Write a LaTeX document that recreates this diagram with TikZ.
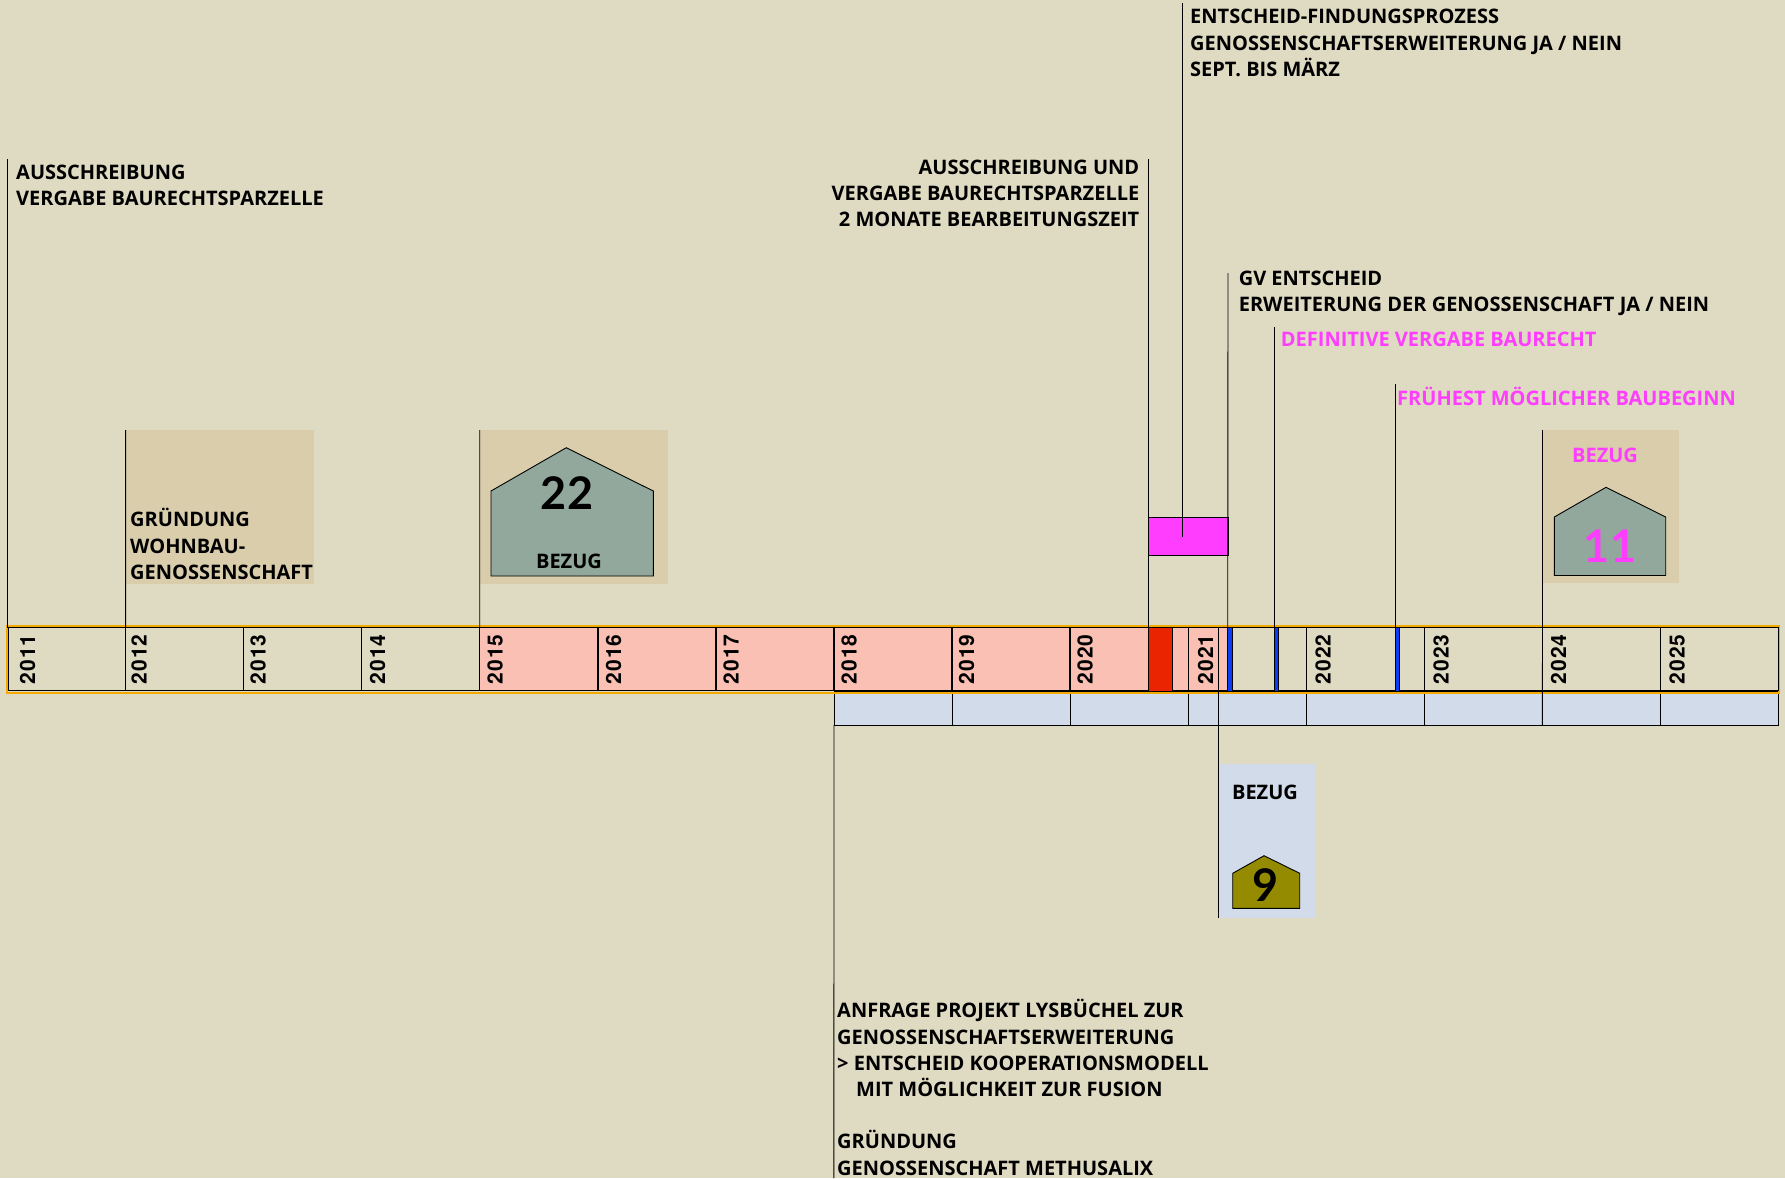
\documentclass[tikz,border=0pt]{standalone}
\usepackage{fontspec}
\setmainfont{Open Sans}
\newfontfamily\yearfont[LetterSpace=6]{TeX Gyre Heros}
\newfontfamily\countfont{Lato}
\usetikzlibrary{positioning}

\definecolor{paper}{HTML}{DFDAC2}
\definecolor{tan}{HTML}{D9CDAC}
\definecolor{sage}{HTML}{92A89C}
\definecolor{salmon}{HTML}{FBC0B4}
\definecolor{signal}{HTML}{EA2400}
\definecolor{pinkish}{HTML}{FF3DFF}
\definecolor{bluebar}{HTML}{0A3DF5}
\definecolor{pale}{HTML}{D2DBE9}
\definecolor{olive}{HTML}{958B00}
\definecolor{rim}{HTML}{F2A900}

\begin{document}
\begin{tikzpicture}[
  x=1pt, y=-1pt,
  block/.style={inner sep=0pt, outer sep=0pt, anchor=north west},
  yearcell/.style={block, draw=black, line width=1.3pt, minimum width=118.07pt, minimum height=63pt},
  lowcell/.style={block, draw=black, line width=0.9pt, fill=pale, minimum width=118.07pt, minimum height=34pt},
  yearlabel/.style={rotate=90, anchor=west, inner sep=0pt, font=\yearfont\bfseries\fontsize{21}{24}\selectfont},
  note/.style={inner sep=0pt, anchor=west, align=left, font=\bfseries\fontsize{20}{26.2}\selectfont},
  noteright/.style={note, anchor=east, align=right},
  bezug/.style={inner sep=0pt, font=\bfseries\fontsize{20}{24}\selectfont},
  count/.style={inner sep=0pt, font=\countfont\bfseries\fontsize{45}{48}\selectfont},
  tick/.style={draw=black, line width=0.9pt},
  house/.style={draw=black, line width=0.9pt, fill=sage},
  stroke/.style={block, draw=black, line width=0.7pt}
]
\useasboundingbox (0,0) rectangle (1785,1178);
\fill[paper] (0,0) rectangle (1785,1178);

% backgrounds behind the timeline
\node[block, fill=tan, minimum width=188pt, minimum height=154pt] (tan2012) at (126,430) {};
\node[block, fill=tan, minimum width=188pt, minimum height=154pt] (tan2015) at (480,430) {};
\node[block, fill=tan, minimum width=136pt, minimum height=153pt] (tan2024) at (1543,430) {};
\node[block, fill=pale, minimum width=97pt, minimum height=154pt] (pale2021) at (1219,764) {};
\node[block, fill=salmon, minimum width=748.3pt, minimum height=64pt] (salmonbar) at (479.7,627) {};

% timeline
\foreach \year/\lx [count=\i from 0] in {2011/27.5,2012/139,2013/258,2014/377.5,2015/495,2016/613.5,2017/731,2018/849,2019/966.5,2020/1085,2021/1205.5,2022/1323,2023/1441,2024/1558.5,2025/1677}{
  \node[yearcell] (y\year) at (7.5+118.07*\i,627.8) {};
  \node[yearlabel] (label\year) at (\lx,685) {\year};
}
\foreach \year [count=\i from 7] in {2018,...,2025}{
  \node[lowcell] (low\year) at (7.5+118.07*\i,691) {};
}
\draw[rim, line width=2pt] (6.6,626) rectangle (1779.4,692.6);
\draw[black, line width=1.2pt] (8.1,627.8) rectangle (1778.3,690.8);

% marks in the year cells
\node[stroke, fill=signal, minimum width=23.6pt, minimum height=64pt] (phase) at (1148.7,627) {};
\node[stroke, fill=pinkish, minimum width=79.3pt, minimum height=38.7pt] (process) at (1148.7,517) {};
\node[stroke, fill=bluebar, minimum width=4.6pt, minimum height=64pt] (mark1) at (1227.7,627) {};
\node[stroke, fill=bluebar, minimum width=4.6pt, minimum height=64pt] (mark2) at (1274,627) {};
\node[stroke, fill=bluebar, minimum width=4.6pt, minimum height=64pt] (mark3) at (1395,627) {};

% houses
\draw[house] (491,576) -- (491,491) -- (566.3,447.7) -- (653.3,491) -- (653.3,576) -- cycle;
\draw[house] (1554.3,575.5) -- (1554.3,517) -- (1606,487.3) -- (1665.7,517) -- (1665.7,575.5) -- cycle;
\draw[house, fill=olive] (1232.7,908.3) -- (1232.7,873.3) -- (1264,855.7) -- (1299.7,873.3) -- (1299.7,908.3) -- cycle;

% free ends of the lines
\coordinate (top2011) at (7.5,159);
\coordinate (top2012) at (125.6,430);
\coordinate (top2015) at (479.7,430);
\coordinate (topaward) at (1148.7,159);
\coordinate (topprocess) at (1182,3);
\coordinate (endprocess) at (1182,537);
\coordinate (topgv) at (1228,273);
\coordinate (topdef) at (1274,327);
\coordinate (topstart) at (1395,384);
\coordinate (top2024) at (1542.5,430);
\coordinate (end2018) at (833.9,1178);
\coordinate (start2021) at (1218.3,627);
\coordinate (end2021) at (1218.3,917.7);

\draw[tick] (top2011) -- (y2011.north west);
\draw[tick] (top2012) -- (y2012.north west);
\draw[tick] (top2015) -- (y2015.north west);
\draw[tick] (topaward) -- (phase.north west);
\draw[tick] (topprocess) -- (endprocess);
\draw[tick] (topgv) -- (mark1.north west);
\draw[tick] (topdef) -- (mark2.north west);
\draw[tick] (topstart) -- (mark3.north west);
\draw[tick] (top2024) -- (low2024.south west);
\draw[tick] (low2018.south west) -- (end2018);
\draw[tick] (start2021) -- (end2021);

% texts
\node[note] (text2011) at (16,185) {AUSSCHREIBUNG\\VERGABE BAURECHTSPARZELLE};
\node[note] (textfound) at (130,544) {GRÜNDUNG\\WOHNBAU-\\GENOSSENSCHAFT};
\node[noteright] (textaward) at (1139.5,193.5) {AUSSCHREIBUNG UND\\VERGABE BAURECHTSPARZELLE\\2 MONATE BEARBEITUNGSZEIT};
\node[note] (textprocess) at (1190,43) {ENTSCHEID-FINDUNGSPROZESS\\GENOSSENSCHAFTSERWEITERUNG JA / NEIN\\SEPT. BIS MÄRZ};
\node[note] (textgv) at (1238.6,293) {GV ENTSCHEID\\ERWEITERUNG DER GENOSSENSCHAFT JA / NEIN};
\node[note, text=pinkish] (textdef) at (1280.7,339.5) {DEFINITIVE VERGABE BAURECHT};
\node[note, text=pinkish] (textstart) at (1397,396) {FRÜHEST MÖGLICHER BAUBEGINN};
\node[note] (text2018) at (837,1087.5) {ANFRAGE PROJEKT LYSBÜCHEL ZUR\\GENOSSENSCHAFTSERWEITERUNG\\> ENTSCHEID KOOPERATIONSMODELL\\\hspace*{19pt}MIT MÖGLICHKEIT ZUR FUSION\\[26.2pt]GRÜNDUNG\\GENOSSENSCHAFT METHUSALIX};
\node[count] (count22) at (567,493) {22};
\node[bezug] (bezug22) at (569,561) {BEZUG};
\node[bezug, text=pinkish] (bezug11) at (1605,455) {BEZUG};
\node[count, text=pinkish] (count11) at (1610,546) {11};
\node[bezug] (bezug9) at (1265,792) {BEZUG};
\node[count] (count9) at (1266,885.5) {9};
\end{tikzpicture}
\end{document}
